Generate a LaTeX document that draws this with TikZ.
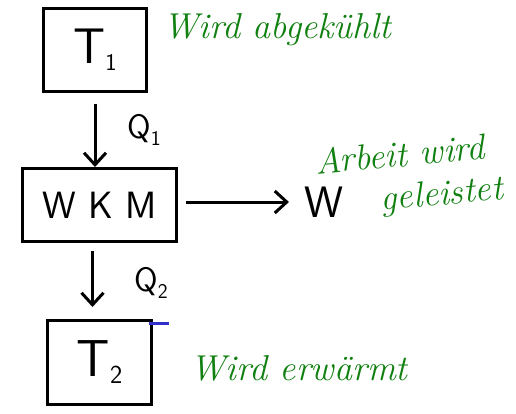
\documentclass[tikz,border=0pt]{standalone}
\usepackage{fontspec}
\usepackage{tikz}
\usetikzlibrary{arrows.meta, positioning}

\definecolor{stiftgruen}{RGB}{16,128,16}
\definecolor{stiftblau}{RGB}{48,48,200}

% tiefgestellte Ziffer
\newcommand{\tiefzahl}[2]{\raisebox{-7pt}{\fontsize{#1}{#1}\selectfont #2}}

\begin{document}
\begin{tikzpicture}[x=1pt, y=-1pt, >={Straight Barb[length=12pt, width=22pt]},
    kasten/.style={draw, line width=3pt, inner sep=0pt},
    pfeil/.style={->, line width=3pt},
    notiz/.style={text=stiftgruen, font=\itshape\fontsize{36}{40}\selectfont, inner sep=0pt}]
    \useasboundingbox (0,0) rectangle (516,413);

    % Waermespeicher und Maschine
    \node[kasten, minimum width=103pt, minimum height=83pt,
          font=\sffamily\fontsize{50}{50}\selectfont] (t1) at (95,50) {T\tiefzahl{24}{1}};
    \node[kasten, minimum width=154pt, minimum height=73pt,
          font=\sffamily\fontsize{38}{38}\selectfont] (wkm) at (99.5,205) {W K M};
    \node[kasten, minimum width=104pt, minimum height=84pt,
          font=\sffamily\fontsize{52}{52}\selectfont] (t2) at (99.5,362.5) {T\tiefzahl{26}{2}};

    % Beschriftungen
    \node[font=\sffamily\fontsize{34}{34}\selectfont] (q1) at (144,130) {Q\tiefzahl{21}{1}};
    \node[font=\sffamily\fontsize{34}{34}\selectfont] (q2) at (151,283) {Q\tiefzahl{21}{2}};
    \node[font=\sffamily\fontsize{44}{44}\selectfont] (w) at (324,202) {W};

    % Pfeile
    \draw[pfeil, shorten <=11pt] (t1.south) -- (t1.south |- wkm.north);
    \draw[pfeil, shorten <=8pt, shorten >=12pt] ([xshift=-7pt]wkm.south) -- ([xshift=-7pt]t2.north);
    \draw[pfeil, shorten <=8pt, shorten >=12pt] ([yshift=3pt]wkm.east) -- ([yshift=3pt]wkm.east -| w.west);

    % Strich am Kasten
    \draw[stiftblau, line width=2.5pt] ([shift={(-4.5,4.5)}]t2.north east) -- ++(20,0);

    % Notizen
    \node[notiz, anchor=base west] (abgekuehlt) at (163,38) {Wird abgekühlt};
    \node[notiz, anchor=center, rotate=5] (arbeit) at (400,154) {Arbeit wird};
    \node[notiz, anchor=center, rotate=5] (geleistet) at (442,196) {geleistet};
    \node[notiz, anchor=base west] (erwaermt) at (190,380) {Wird erwärmt};
\end{tikzpicture}
\end{document}
